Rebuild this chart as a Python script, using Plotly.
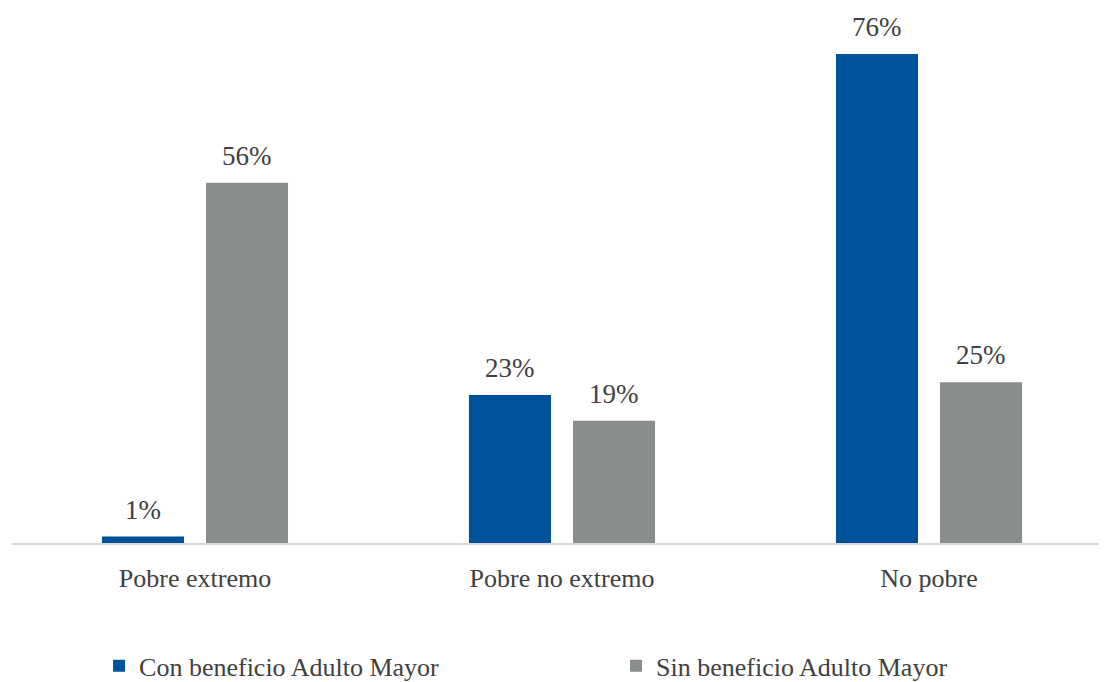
import plotly.graph_objects as go

categories = ["Pobre extremo", "Pobre no extremo", "No pobre"]
con_beneficio = [1, 23, 76]
sin_beneficio = [56, 19, 25]
series_names = ["Con beneficio Adulto Mayor", "Sin beneficio Adulto Mayor"]
colors = ["#00529B", "#8A8D8E"]

FONT = "'Liberation Serif', 'Times New Roman', Times, serif"
TXT = "#404040"
BARGAP = 0.433
BARGROUPGAP = 0.2115

fig = go.Figure()
for name, vals, col in zip(series_names, [con_beneficio, sin_beneficio], colors):
    fig.add_trace(go.Bar(x=categories, y=vals, name=name, marker_color=col,
                         marker_line_width=0, hoverinfo="skip"))

# value labels, placed on each bar's centre through the axis scale
slot = (1 - BARGAP) / 2
for k, vals in enumerate([con_beneficio, sin_beneficio]):
    off = (k - 0.5) * slot
    for i, v in enumerate(vals):
        fig.add_annotation(x=i + off, y=v, xref="x", yref="y", text=f"{v}%",
                           showarrow=False, yanchor="middle", yshift=27,
                           font=dict(family=FONT, size=27, color=TXT))

fig.update_layout(
    width=1099, height=674,
    margin=dict(l=4, r=0, t=12, b=139, autoexpand=False),
    paper_bgcolor="white", plot_bgcolor="white",
    barmode="group", bargap=BARGAP, bargroupgap=BARGROUPGAP,
    font=dict(family=FONT, size=26, color=TXT),
    showlegend=True,
    legend=dict(orientation="h", x=0.0795, y=-0.235, xanchor="left", yanchor="middle",
                entrywidth=472, entrywidthmode="pixels", itemwidth=30,
                font=dict(family=FONT, size=26, color=TXT)),
)
fig.update_xaxes(showline=True, linecolor="#D9D9D9", linewidth=2, showgrid=False,
                 ticks="", ticklabelstandoff=11, range=[-0.4986, 2.485],
                 tickfont=dict(family=FONT, size=26, color=TXT))
fig.update_yaxes(visible=False, range=[0, 81.3], showgrid=False, zeroline=False)

fig.write_html("out.html")
